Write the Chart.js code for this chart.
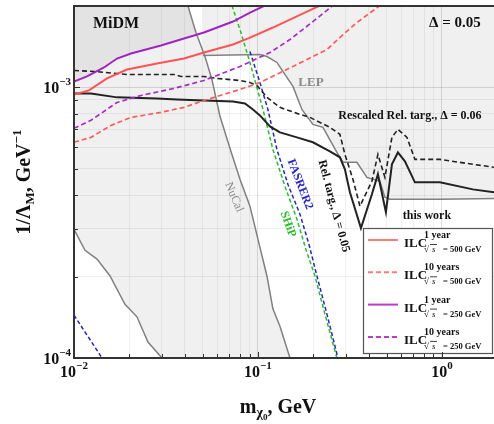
<!DOCTYPE html>
<html>
<head>
<meta charset="utf-8">
<script src="https://cdn.jsdelivr.net/npm/chart.js@4.4.1/dist/chart.umd.min.js"></script>
<style>
  html, body { margin: 0; padding: 0; background: #fff; }
  canvas { display: block; }
</style>
</head>
<body>
<canvas id="bounds" width="494" height="424"></canvas>
<script>
// axis limits, m_chi0 in GeV and 1/Lambda_M in GeV^-1
const X_MIN = 0.01, X_MAX = 1.92;
const Y_MIN = 1e-4, Y_MAX = 2e-3;

// ILC reach, sqrt(s) = 500 GeV
const ilc500y1X = [0.01, 0.01206, 0.01511, 0.01941, 0.02825, 0.03962, 0.05087, 0.0732, 0.0905, 0.1206, 0.1847, 0.2173];
const ilc500y1Y = [0.942e-3, 0.975e-3, 1.080e-3, 1.165e-3, 1.226e-3, 1.279e-3, 1.346e-3, 1.441e-3, 1.529e-3, 1.665e-3, 1.907e-3, 2.007e-3];
const ilc500y10X = [0.01, 0.01237, 0.01589, 0.02041, 0.0297, 0.03962, 0.05087, 0.07985, 0.1025, 0.1367, 0.1847, 0.2371, 0.279, 0.3451, 0.4603];
const ilc500y10Y = [0.627e-3, 0.654e-3, 0.724e-3, 0.775e-3, 0.809e-3, 0.844e-3, 0.895e-3, 0.983e-3, 1.043e-3, 1.146e-3, 1.269e-3, 1.381e-3, 1.529e-3, 1.738e-3, 2.007e-3];

// ILC reach, sqrt(s) = 250 GeV
const ilc250y1X = [0.01, 0.01177, 0.01456, 0.01713, 0.02041, 0.0297, 0.03962, 0.05087, 0.0732, 0.0905, 0.1091];
const ilc250y1Y = [1.052e-3, 1.098e-3, 1.185e-3, 1.279e-3, 1.335e-3, 1.429e-3, 1.516e-3, 1.596e-3, 1.752e-3, 1.891e-3, 2.007e-3];
const ilc250y10X = [0.01, 0.01237, 0.01713, 0.02312, 0.03497, 0.05087, 0.07985, 0.1162, 0.1493, 0.199, 0.2556];
const ilc250y10Y = [0.706e-3, 0.756e-3, 0.880e-3, 0.934e-3, 0.992e-3, 1.061e-3, 1.195e-3, 1.346e-3, 1.503e-3, 1.752e-3, 2.007e-3];

// relic target, Delta = 0.05, and rescaled to Delta = 0.06
const relTargX = [0.01, 0.01237, 0.01713, 0.02825, 0.03628, 0.05087, 0.0732, 0.08499, 0.09394, 0.1025, 0.1162, 0.1317, 0.1629, 0.199, 0.2462, 0.279, 0.297, 0.3162, 0.363, 0.4165, 0.449, 0.4962, 0.535, 0.5766, 0.6295, 0.7135, 0.9752, 1.474, 1.92];
const relTargY = [0.950e-3, 0.950e-3, 0.919e-3, 0.911e-3, 0.903e-3, 0.895e-3, 0.888e-3, 0.873e-3, 0.829e-3, 0.788e-3, 0.718e-3, 0.682e-3, 0.654e-3, 0.627e-3, 0.580e-3, 0.552e-3, 0.498e-3, 0.410e-3, 0.302e-3, 0.403e-3, 0.478e-3, 0.346e-3, 0.520e-3, 0.575e-3, 0.533e-3, 0.446e-3, 0.446e-3, 0.420e-3, 0.410e-3];
const relTargRescX = [0.01, 0.01284, 0.01713, 0.01941, 0.03497, 0.03815, 0.05087, 0.05988, 0.07985, 0.09048, 0.09876, 0.1119, 0.1317, 0.1629, 0.1917, 0.2462, 0.279, 0.297, 0.3283, 0.3584, 0.4165, 0.449, 0.49, 0.535, 0.5766, 0.6455, 0.7135, 0.9752, 1.474, 1.92];
const relTargRescY = [1.155e-3, 1.146e-3, 1.126e-3, 1.117e-3, 1.117e-3, 1.098e-3, 1.098e-3, 1.080e-3, 1.061e-3, 1.043e-3, 1.017e-3, 0.919e-3, 0.844e-3, 0.802e-3, 0.775e-3, 0.712e-3, 0.671e-3, 0.566e-3, 0.458e-3, 0.364e-3, 0.450e-3, 0.566e-3, 0.465e-3, 0.654e-3, 0.700e-3, 0.654e-3, 0.542e-3, 0.542e-3, 0.520e-3, 0.507e-3];

// LEP exclusion edge
const lepX = [0.05024, 0.1025, 0.1119, 0.1268, 0.1367, 0.155, 0.1734, 0.199, 0.2256, 0.2688, 0.2897, 0.3451, 0.3912, 0.4603, 0.49, 0.5217, 0.9752, 1.92];
const lepY = [1.313e-3, 1.324e-3, 1.301e-3, 1.237e-3, 1.146e-3, 1.009e-3, 0.829e-3, 0.730e-3, 0.712e-3, 0.575e-3, 0.529e-3, 0.529e-3, 0.465e-3, 0.450e-3, 0.393e-3, 0.386e-3, 0.386e-3, 0.389e-3];

// NuCal exclusion: upper-right edge and lower-left edge
const nucalX = [0.04165, 0.04603, 0.05152, 0.05623, 0.06217, 0.07135, 0.07985, 0.09048, 0.1, 0.1119, 0.1206, 0.1317, 0.1493];
const nucalY = [2.0e-3, 1.596e-3, 1.301e-3, 1.070e-3, 0.782e-3, 0.580e-3, 0.458e-3, 0.364e-3, 0.275e-3, 0.201e-3, 0.152e-3, 0.131e-3, 0.1e-3];
const nucalLowX = [0.01, 0.01148, 0.01334, 0.0157, 0.01893, 0.02199, 0.02524, 0.03008];
const nucalLowY = [0.299e-3, 0.250e-3, 0.232e-3, 0.201e-3, 0.158e-3, 0.142e-3, 0.1146e-3, 0.1e-3];

// MiDM region lower edge
const midmX = [0.01, 0.01177, 0.01456, 0.01713, 0.02041, 0.0297, 0.03962, 0.04603];
const midmY = [1.052e-3, 1.098e-3, 1.185e-3, 1.279e-3, 1.335e-3, 1.429e-3, 1.516e-3, 1.596e-3];

// SHiP and FASER2 projections
const shipX = [0.07224, 0.07985, 0.09048, 0.1065, 0.1206, 0.1402, 0.1629, 0.1823, 0.2041, 0.2312, 0.2688];
const shipY = [2.007e-3, 1.637e-3, 1.237e-3, 0.829e-3, 0.590e-3, 0.431e-3, 0.326e-3, 0.252e-3, 0.201e-3, 0.1453e-3, 0.1e-3];
const faserX = [0.09048, 0.1025, 0.1133, 0.1268, 0.1455, 0.1692, 0.1893, 0.2093, 0.2371, 0.2722];
const faserY = [1.358e-3, 1.043e-3, 0.829e-3, 0.590e-3, 0.4385e-3, 0.340e-3, 0.2634e-3, 0.201e-3, 0.1453e-3, 0.1e-3];
const faserLowX = [0.01, 0.0142];
const faserLowY = [0.144e-3, 0.1e-3];

const SERIF = '"Liberation Serif", "DejaVu Serif", serif';
const font = (size, bold = true, italic = false) => `${italic ? 'italic ' : ''}${bold ? 'bold ' : ''}${size}px ${SERIF}`;

const pts = (xs, ys) => xs.map((v, i) => ({ x: v, y: ys[i] }));
const isDecade = v => Math.abs(Math.log10(v) - Math.round(Math.log10(v))) < 1e-6;

function logTicks(min, max) {
    const ticks = [];
    for (let e = Math.floor(Math.log10(min)); e <= Math.ceil(Math.log10(max)); e++) {
        for (let m = 1; m < 10; m++) {
            const v = m * Math.pow(10, e);
            if (v >= min * 0.999 && v <= max * 1.001) ticks.push({ value: v });
        }
    }
    return ticks;
}

function line(data, color, width, dash, order, extra = {}) {
    return Object.assign({
        data, showLine: true, borderColor: color, borderWidth: width, borderDash: dash,
        pointRadius: 0, tension: 0, fill: false, order
    }, extra);
}

function shape(data, color) {
    return {
        data, showLine: true, borderColor: 'transparent', borderWidth: 0, pointRadius: 0,
        backgroundColor: color, fill: 'shape', order: 10
    };
}

const SHADE = 'rgba(0,0,0,0.06)';
const GREY = '#808080';

const datasets = [
    line(pts(ilc500y1X, ilc500y1Y), '#ff5252', 2, [], 1, { years: '1 year', energy: '500', key: '#ff7b7b' }),
    line(pts(ilc500y10X, ilc500y10Y), '#ff5a5a', 1.7, [5, 3], 1, { years: '10 years', energy: '500', key: '#ff7b7b' }),
    line(pts(ilc250y1X, ilc250y1Y), '#a024c0', 2, [], 1, { years: '1 year', energy: '250', key: '#c03cc8' }),
    line(pts(ilc250y10X, ilc250y10Y), '#a82cc4', 1.7, [5, 3], 1, { years: '10 years', energy: '250', key: '#c03cc8' }),
    line(pts(relTargX, relTargY), '#222', 2, [], 2),
    line(pts(relTargRescX, relTargRescY), '#222', 1.6, [5, 3], 2),
    line(pts(faserX, faserY), '#2424d8', 1.5, [4, 2.5], 3),
    line(pts(faserLowX, faserLowY), '#2424d8', 1.5, [4, 2.5], 3),
    line(pts(shipX, shipY), '#22c422', 1.5, [4, 2.5], 3),
    line(pts(lepX, lepY), GREY, 1.5, [], 5),
    line(pts(nucalX, nucalY), GREY, 1.5, [], 5),
    line(pts(nucalLowX, nucalLowY), GREY, 1.5, [], 5),
    shape([{ x: X_MIN, y: Y_MAX }, ...pts(midmX, midmY), { x: nucalX[0], y: Y_MAX }], 'rgba(0,0,0,0.055)'),
    shape([{ x: X_MIN, y: Y_MAX }, ...pts(nucalX, nucalY), ...pts(nucalLowX, nucalLowY).reverse()], SHADE),
    shape([{ x: lepX[0], y: Y_MAX }, ...pts(lepX, lepY), { x: X_MAX, y: Y_MAX }], SHADE)
];

// free-standing annotations, anchored in data coordinates
const notes = [
    { text: 'MiDM', x: 0.01692, y: 1.722e-3, size: 16, color: '#111', angle: 0 },
    { text: 'Δ = 0.05', x: 1.177, y: 1.722e-3, size: 15, color: '#111', angle: 0 },
    { text: 'LEP', x: 0.1941, y: 1.043e-3, size: 13, color: '#8a8a8a', angle: 0 },
    { text: 'Rescaled Rel. targ., Δ = 0.06', x: 0.670, y: 0.782e-3, size: 12, color: '#111', angle: 0 },
    { text: 'this work', x: 0.829, y: 0.334e-3, size: 12, color: '#111', angle: 0 },
    { text: 'Rel. targ., Δ = 0.05', x: 0.2582, y: 0.364e-3, size: 12, color: '#111', angle: 75 },
    { text: 'FASRER2', x: 0.1692, y: 0.4385e-3, size: 12, color: '#2424d8', angle: 69 },
    { text: 'SHiP', x: 0.1455, y: 0.312e-3, size: 12, color: '#22c422', angle: 70 },
    { text: 'NuCal', x: 0.0741, y: 0.393e-3, size: 12, color: '#8a8a8a', angle: 67, bold: false }
];

function drawRich(ctx, parts, x, y, align) {
    let w = 0;
    parts.forEach(p => {
        ctx.font = font(p.size, p.bold !== false, p.italic);
        p.w = ctx.measureText(p.t).width;
        w += p.w;
    });
    let cx = align === 'center' ? x - w / 2 : align === 'right' ? x - w : x;
    parts.forEach(p => {
        ctx.font = font(p.size, p.bold !== false, p.italic);
        ctx.fillText(p.t, cx, y + (p.dy || 0));
        cx += p.w;
    });
    return w;
}

const decor = {
    id: 'decor',
    afterDatasetsDraw(chart) {
        const { ctx, scales: { x, y } } = chart;
        ctx.save();
        ctx.textAlign = 'center';
        ctx.textBaseline = 'middle';
        notes.forEach(n => {
            ctx.save();
            ctx.translate(x.getPixelForValue(n.x), y.getPixelForValue(n.y));
            ctx.rotate(n.angle * Math.PI / 180);
            ctx.font = font(n.size, n.bold !== false);
            ctx.fillStyle = n.color;
            ctx.fillText(n.text, 0, 0);
            ctx.restore();
        });

        // legend box for the ILC curves
        const box = { l: 363, t: 228, r: 492, b: 353 };
        ctx.fillStyle = '#fff';
        ctx.fillRect(box.l, box.t, box.r - box.l, box.b - box.t);
        ctx.strokeStyle = '#555';
        ctx.lineWidth = 1.2;
        ctx.strokeRect(box.l + 0.5, box.t + 0.5, box.r - box.l, box.b - box.t);
        ctx.textAlign = 'left';
        ctx.textBaseline = 'alphabetic';
        chart.data.datasets.slice(0, 4).forEach((ds, i) => {
            const ry = 240 + i * 32.3;
            ctx.strokeStyle = ds.key;
            ctx.lineWidth = 2;
            ctx.setLineDash(ds.borderDash);
            ctx.beginPath();
            ctx.moveTo(368, ry);
            ctx.lineTo(398, ry);
            ctx.stroke();
            ctx.setLineDash([]);
            ctx.fillStyle = '#111';
            ctx.font = font(13);
            ctx.fillText('ILC', 404, ry + 7);
            ctx.font = font(10);
            ctx.fillText(ds.years, 424, ry - 2);
            ctx.font = font(9);
            ctx.fillText('√', 424, ry + 12);
            ctx.font = font(9, false, true);
            ctx.fillText('s', 432, ry + 12);
            ctx.lineWidth = 0.8;
            ctx.strokeStyle = '#111';
            ctx.beginPath();
            ctx.moveTo(430, ry + 4.5);
            ctx.lineTo(437, ry + 4.5);
            ctx.stroke();
            ctx.font = font(8.5);
            ctx.fillText(`= ${ds.energy} GeV`, 443, ry + 12);
        });
        ctx.restore();
    },
    afterDraw(chart) {
        const { ctx, chartArea: a, scales: { x, y } } = chart;
        ctx.save();
        ctx.strokeStyle = '#333';
        ctx.lineWidth = 1;
        x.ticks.forEach(t => {
            const px = Math.round(x.getPixelForValue(t.value)) + 0.5;
            const len = isDecade(t.value) ? 6 : 4;
            ctx.beginPath();
            ctx.moveTo(px, a.bottom);
            ctx.lineTo(px, a.bottom - len);
            ctx.stroke();
        });
        y.ticks.forEach(t => {
            const py = Math.round(y.getPixelForValue(t.value)) + 0.5;
            const len = isDecade(t.value) ? 6 : 4;
            ctx.beginPath();
            ctx.moveTo(a.left, py);
            ctx.lineTo(a.left + len, py);
            ctx.stroke();
        });

        // frame on left, top and bottom
        ctx.lineWidth = 2;
        ctx.strokeStyle = '#333';
        ctx.beginPath();
        ctx.moveTo(a.right + 2, a.top);
        ctx.lineTo(a.left, a.top);
        ctx.lineTo(a.left, a.bottom);
        ctx.lineTo(a.right + 2, a.bottom);
        ctx.stroke();

        // decade labels with superscript exponents
        ctx.fillStyle = '#111';
        ctx.textAlign = 'left';
        ctx.textBaseline = 'alphabetic';
        x.ticks.filter(t => isDecade(t.value)).forEach(t => {
            const e = Math.round(Math.log10(t.value));
            drawRich(ctx, [{ t: '10', size: 16 }, { t: e < 0 ? '−' + (-e) : String(e), size: 11, dy: -8 }],
                x.getPixelForValue(t.value), a.bottom + 19, 'center');
        });
        y.ticks.filter(t => isDecade(t.value)).forEach(t => {
            const e = Math.round(Math.log10(t.value));
            drawRich(ctx, [{ t: '10', size: 16 }, { t: '−' + (-e), size: 11, dy: -8 }],
                a.left - 3, y.getPixelForValue(t.value) + 6, 'right');
        });

        // axis titles
        drawRich(ctx, [
            { t: 'm', size: 20 }, { t: 'χ', size: 14, dy: 4 }, { t: '0', size: 9, dy: 7 }, { t: ', GeV', size: 20 }
        ], (a.left + a.right) / 2 - 6, 413, 'center');
        ctx.save();
        ctx.translate(30, (a.top + a.bottom) / 2);
        ctx.rotate(-Math.PI / 2);
        drawRich(ctx, [
            { t: '1/Λ', size: 20 }, { t: 'M', size: 13, dy: 4 }, { t: ', GeV', size: 20 }, { t: '−1', size: 13, dy: -9 }
        ], 0, 0, 'center');
        ctx.restore();
        ctx.restore();
    }
};

const gridColor = ctx => (ctx.tick && isDecade(ctx.tick.value)) ? 'rgba(0,0,0,0.13)' : 'rgba(0,0,0,0.06)';

new Chart(document.getElementById('bounds'), {
    type: 'scatter',
    data: { datasets },
    options: {
        responsive: false,
        animation: false,
        devicePixelRatio: 1,
        events: [],
        layout: { padding: { left: 74, top: 6, right: 0, bottom: 66 } },
        plugins: { legend: { display: false }, tooltip: { enabled: false } },
        scales: {
            x: {
                type: 'logarithmic', min: X_MIN, max: X_MAX,
                afterBuildTicks: s => { s.ticks = logTicks(X_MIN, X_MAX); },
                ticks: { display: false },
                grid: { color: gridColor, drawTicks: false },
                border: { display: false }
            },
            y: {
                type: 'logarithmic', min: Y_MIN, max: Y_MAX,
                afterBuildTicks: s => { s.ticks = logTicks(Y_MIN, Y_MAX); },
                ticks: { display: false },
                grid: { color: gridColor, drawTicks: false },
                border: { display: false }
            }
        }
    },
    plugins: [decor]
});
</script>
</body>
</html>
